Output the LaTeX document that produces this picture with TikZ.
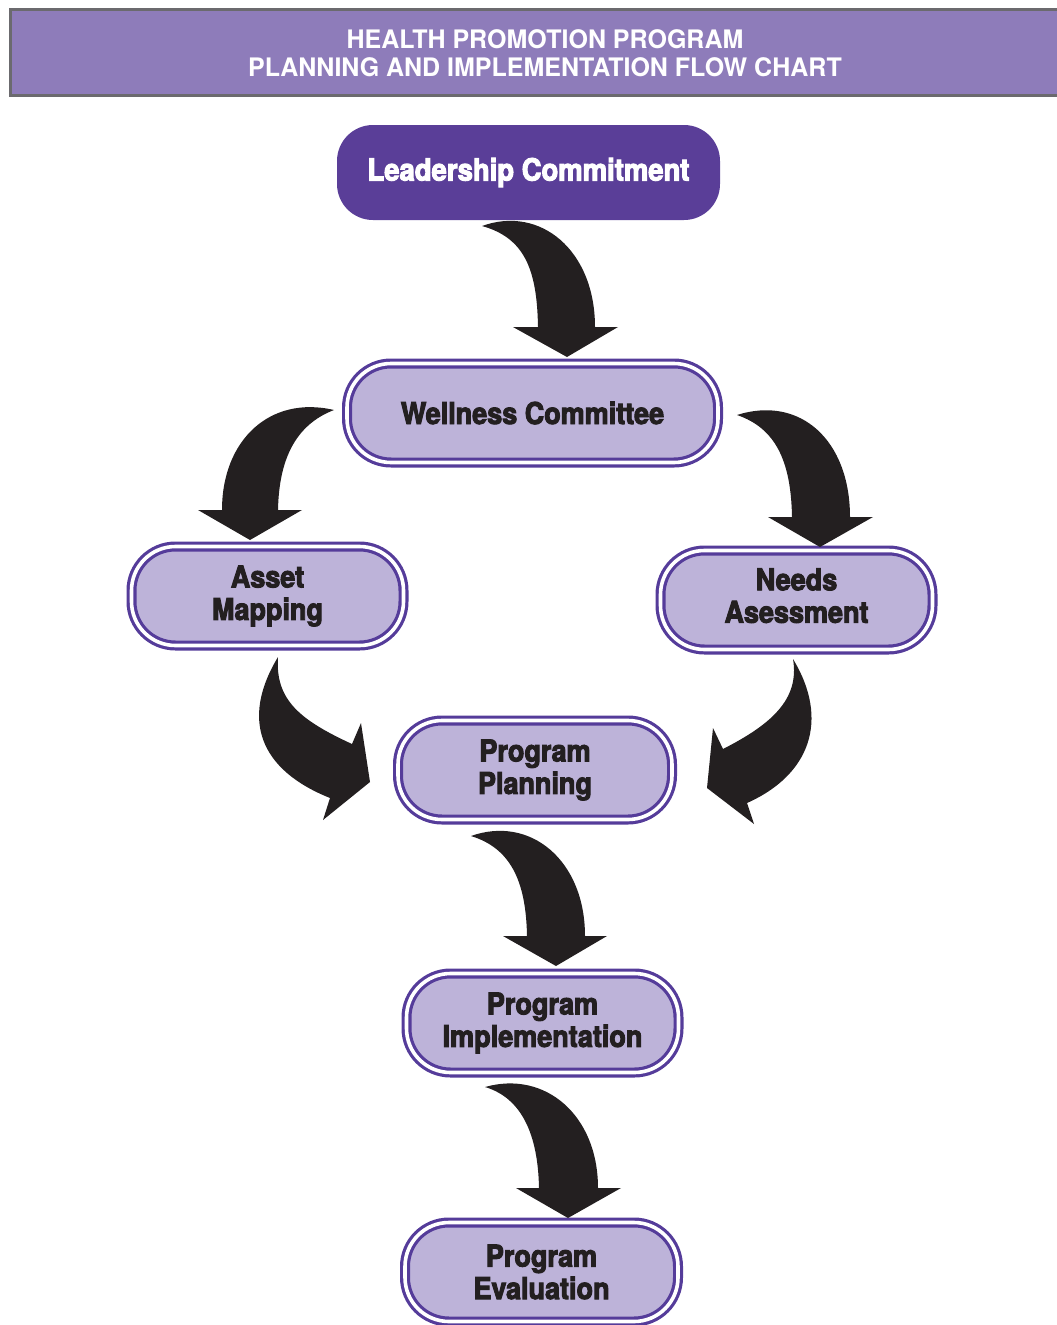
\documentclass[tikz,border=0pt]{standalone}
\usepackage{fontspec}
\setmainfont{TeX Gyre Heros}
\newfontfamily\headfont{TeX Gyre Heros}[FakeStretch=0.98]
\newfontfamily\blackfont{TeX Gyre Heros}[FakeStretch=0.9,FakeBold=3.2]
\definecolor{headfill}{HTML}{8E7CBA}
\definecolor{headline}{HTML}{6B6A6E}
\definecolor{leadfill}{HTML}{5A3E98}
\definecolor{boxfill}{HTML}{BDB3D9}
\definecolor{boxline}{HTML}{553C9A}
\definecolor{ink}{HTML}{231F20}
\tikzset{
  stagebox/.style={draw=boxline, line width=3.2pt, double=white, double distance=3.6pt,
    fill=boxfill, rounded corners=44pt, inner sep=0pt, align=center, text=ink,
    minimum width=272pt, minimum height=99pt,
    font=\blackfont\bfseries\fontsize{30}{32.5}\selectfont},
  leadbox/.style={fill=leadfill, rounded corners=36pt, inner sep=0pt, text=white,
    minimum width=383pt, minimum height=95pt,
    font=\blackfont\bfseries\fontsize{30.5}{35}\selectfont},
  bigarrow/.style={fill=ink, draw=none}
}
\begin{document}
\begin{tikzpicture}[x=1pt,y=-1pt]
\useasboundingbox (0,0) rectangle (1057,1325);

% title banner
\draw[fill=headfill, draw=headline, line width=3pt] (10.5,9.5) rectangle (1075,95.5);
\node[text=white, align=center, inner sep=0pt,
  font=\headfont\bfseries\fontsize{25.5}{28.5}\selectfont] (title) at (545,53)
  {HEALTH PROMOTION PROGRAM\\PLANNING AND IMPLEMENTATION FLOW CHART};

% stages
\node[leadbox] (lead) at (528.5,172.5) {Leadership Commitment};
\node[stagebox, minimum width=371pt] (well) at (532.5,413) {Wellness Committee};
\node[stagebox] (asset) at (267.5,596) {Asset\\Mapping};
\node[stagebox] (needs) at (796.5,600)
  {\raisebox{3pt}{\begin{tabular}{@{}c@{}}Needs\\Asessment\end{tabular}}};
\node[stagebox, minimum width=274pt] (plan) at (535,770) {Program\\Planning};
\node[stagebox] (impl) at (542.5,1023) {Program\\Implementation};
\node[stagebox, minimum width=273pt] (eval) at (541.5,1272) {Program\\Evaluation};

% curved block arrows
% leadership -> wellness
\fill[bigarrow] (482,226) .. controls (540,205) and (595,250) .. (595,327)
  -- (618,327) -- (567,357) -- (513,327) -- (538,327)
  .. controls (537,270) and (525,238) .. (482,226) -- cycle;
% wellness -> asset mapping
\fill[bigarrow] (334,410) .. controls (270,395) and (222,440) .. (222,510)
  -- (198,510) -- (250,540) -- (302,510) -- (278,510)
  .. controls (279,460) and (295,425) .. (334,410) -- cycle;
% wellness -> needs assessment
\fill[bigarrow] (737,415) .. controls (800,395) and (850,440) .. (850,517)
  -- (873,517) -- (820,547) -- (768,517) -- (792,517)
  .. controls (791,460) and (775,428) .. (737,415) -- cycle;
% asset mapping -> planning
\fill[bigarrow] (278,657) .. controls (240,720) and (260,770) .. (330,798)
  -- (323,820) -- (370,782) -- (361,723) -- (352,744)
  .. controls (300,720) and (275,700) .. (278,657) -- cycle;
% needs assessment -> planning
\fill[bigarrow] (793,659) .. controls (830,720) and (810,775) .. (747,803)
  -- (754,824) -- (707,788) -- (713,728) -- (723,749)
  .. controls (770,725) and (800,700) .. (793,659) -- cycle;
% planning -> implementation
\fill[bigarrow] (471,836) .. controls (530,815) and (585,860) .. (585,936)
  -- (607,936) -- (556,966) -- (503,936) -- (527,936)
  .. controls (526,880) and (510,848) .. (471,836) -- cycle;
% implementation -> evaluation
\fill[bigarrow] (485,1087) .. controls (545,1070) and (598,1115) .. (598,1188)
  -- (621,1188) -- (568,1218) -- (516,1188) -- (539,1188)
  .. controls (538,1135) and (522,1098) .. (485,1087) -- cycle;
\end{tikzpicture}
\end{document}
